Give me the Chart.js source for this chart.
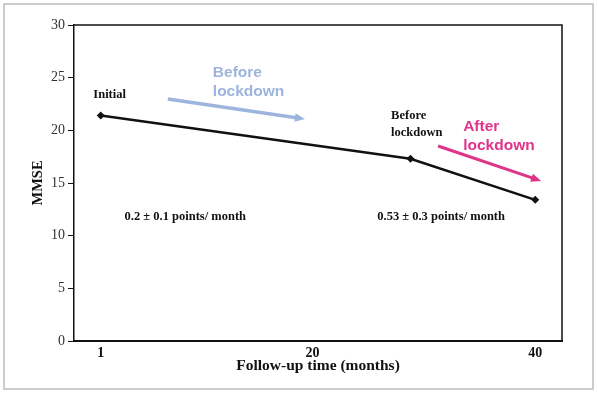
<!DOCTYPE html>
<html>
<head>
<meta charset="utf-8">
<script src="https://cdn.jsdelivr.net/npm/chart.js@4/dist/chart.umd.min.js"></script>
<style>
  html, body { margin: 0; padding: 0; background: #fff; }
  #wrap { width: 597px; height: 394px; }
</style>
</head>
<body>
<div id="wrap"><canvas id="myChart"></canvas></div>
<script>
// data
const months = [1, 28.8, 40];
const mmse = [21.4, 17.3, 13.4];
const xTicks = [1, 20, 40];
const rateLabels = ["0.2 \u00b1 0.1 points/ month", "0.53 \u00b1 0.3 points/ month"];

const serif = "'Liberation Serif', 'Times New Roman', serif";
const sans = "'Liberation Sans', Arial, sans-serif";

// text notes and arrows, placed in data units
const notes = [
  { x: 1.8, y: 23.35, lines: ["Initial"], font: "bold 12.5px " + serif, color: "#111", align: "center" },
  { x: 27.06, y: 21.36, lines: ["Before", "lockdown"], lh: 1.6, font: "bold 12.5px " + serif, color: "#111", align: "left" },
  { x: 11.06, y: 25.44, lines: ["Before", "lockdown"], lh: 1.8, font: "bold 15.5px " + sans, color: "#9db5dd", align: "left" },
  { x: 33.53, y: 20.32, lines: ["After", "lockdown"], lh: 1.8, font: "bold 15.5px " + sans, color: "#e0338a", align: "left" },
  { x: 8.59, y: 11.77, lines: [rateLabels[0]], font: "bold 12.5px " + serif, color: "#111", align: "center" },
  { x: 31.55, y: 11.77, lines: [rateLabels[1]], font: "bold 12.5px " + serif, color: "#111", align: "center" }
];
const arrows = [
  { from: [7.02, 22.97], to: [19.33, 21.08], color: "#9db5dd", width: 3.5 },
  { from: [31.28, 18.51], to: [40.53, 15.19], color: "#e0338a", width: 3 }
];

const decor = {
  id: "decor",
  beforeDraw(chart) {
    const c = chart.ctx;
    c.save();
    c.fillStyle = "#fff";
    c.fillRect(0, 0, chart.width, chart.height);
    c.strokeStyle = "#bdbdbd";
    c.lineWidth = 1.5;
    c.strokeRect(4, 4, chart.width - 8, chart.height - 9);
    c.restore();
  },
  afterDraw(chart) {
    const c = chart.ctx, a = chart.chartArea;
    const xs = chart.scales.x, ys = chart.scales.y;
    c.save();
    c.strokeStyle = "#111";
    c.lineWidth = 1.5;
    c.beginPath();
    c.moveTo(a.left, a.top);
    c.lineTo(a.right, a.top);
    c.lineTo(a.right, a.bottom);
    c.stroke();

    arrows.forEach(ar => {
      const x1 = xs.getPixelForValue(ar.from[0]), y1 = ys.getPixelForValue(ar.from[1]);
      const x2 = xs.getPixelForValue(ar.to[0]), y2 = ys.getPixelForValue(ar.to[1]);
      const ang = Math.atan2(y2 - y1, x2 - x1);
      const head = 11;
      c.strokeStyle = ar.color;
      c.fillStyle = ar.color;
      c.lineWidth = ar.width;
      c.beginPath();
      c.moveTo(x1, y1);
      c.lineTo(x2 - head * 0.8 * Math.cos(ang), y2 - head * 0.8 * Math.sin(ang));
      c.stroke();
      c.beginPath();
      c.moveTo(x2, y2);
      c.lineTo(x2 - head * Math.cos(ang - 0.4), y2 - head * Math.sin(ang - 0.4));
      c.lineTo(x2 - head * Math.cos(ang + 0.4), y2 - head * Math.sin(ang + 0.4));
      c.closePath();
      c.fill();
    });

    c.textBaseline = "middle";
    notes.forEach(n => {
      c.font = n.font;
      c.fillStyle = n.color;
      c.textAlign = n.align;
      const px = xs.getPixelForValue(n.x);
      const py = ys.getPixelForValue(n.y);
      const step = n.lh ? n.lh * 10.53 : 0;
      n.lines.forEach((t, i) => c.fillText(t, px, py + i * step));
    });
    c.restore();
  }
};

const ctx = document.getElementById("myChart");

new Chart(ctx, {
  type: "line",
  data: {
    datasets: [
      {
        label: "MMSE",
        data: months.map((m, i) => ({ x: m, y: mmse[i] })),
        borderColor: "#111",
        backgroundColor: "#111",
        borderWidth: 2.5,
        pointStyle: "rectRot",
        pointRadius: 4,
        pointBorderWidth: 0,
        tension: 0,
        fill: false
      }
    ]
  },
  options: {
    responsive: true,
    maintainAspectRatio: false,
    animation: false,
    layout: { padding: { left: 30, top: 25, right: 35, bottom: 0 } },
    plugins: {
      legend: { display: false },
      tooltip: { enabled: false }
    },
    scales: {
      x: {
        type: "linear",
        min: -1.4,
        max: 42.4,
        afterBuildTicks: s => { s.ticks = xTicks.map(v => ({ value: v })); },
        afterFit: s => { s.height = 53; },
        grid: { display: false, drawTicks: false },
        border: { display: true, color: "#111", width: 2 },
        ticks: {
          padding: 4,
          color: "#111",
          font: { family: serif, size: 14, weight: "bold" }
        },
        title: {
          display: true,
          text: "Follow-up time (months)",
          color: "#111",
          padding: { top: 0, bottom: 19 },
          font: { family: serif, size: 15.5, weight: "bold" }
        }
      },
      y: {
        min: 0,
        max: 30,
        afterFit: s => { s.width = 44; },
        grid: {
          display: true,
          drawOnChartArea: false,
          drawTicks: true,
          tickLength: 6,
          tickColor: "#111",
          color: "#111"
        },
        border: { display: true, color: "#111", width: 1.5 },
        ticks: {
          stepSize: 5,
          padding: 3,
          color: "#333",
          font: { family: serif, size: 14 }
        },
        title: {
          display: true,
          text: "MMSE",
          color: "#111",
          padding: { top: 0, bottom: 0 },
          font: { family: serif, size: 14.5, weight: "bold" }
        }
      }
    }
  },
  plugins: [decor]
});
</script>
</body>
</html>
